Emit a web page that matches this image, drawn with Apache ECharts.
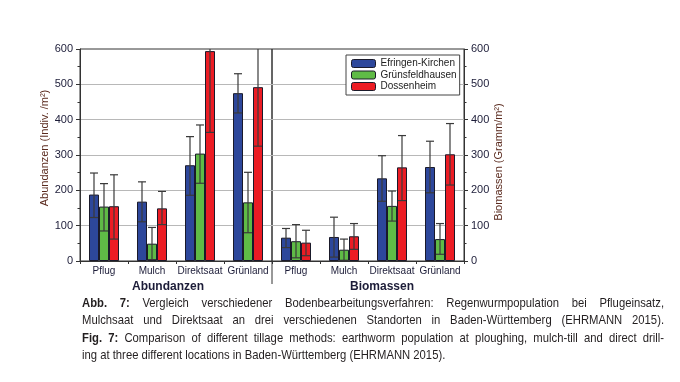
<!DOCTYPE html>
<html>
<head>
<meta charset="utf-8">
<script src="https://cdn.jsdelivr.net/npm/echarts@6/dist/echarts.min.js"></script>
<style>
  html, body { margin: 0; padding: 0; background: #fff; }
  #wrap { position: relative; width: 680px; height: 382px; overflow: hidden; }
  #chart { position: absolute; left: 0; top: 0; width: 680px; height: 382px; }
  #caption { position: absolute; left: 82px; top: 294px; width: 671px;
    transform: scaleX(0.8674); transform-origin: 0 0;
    font-family: "Liberation Sans", Arial, sans-serif;
    font-size: 13px; line-height: 17.3px; color: #231f20; }
  #caption div { text-align: justify; text-align-last: justify; }
  #caption div.last { text-align-last: left; }
</style>
</head>
<body>
<div id="wrap">
  <div id="chart"></div>
  <div id="caption">
    <div><b>Abb. 7:</b> Vergleich verschiedener Bodenbearbeitungsverfahren: Regenwurmpopulation bei Pflugeinsatz,</div>
    <div>Mulchsaat und Direktsaat an drei verschiedenen Standorten in Baden-Württemberg (EHRMANN 2015).</div>
    <div><b>Fig. 7:</b> Comparison of different tillage methods: earthworm population at ploughing, mulch-till and direct drill-</div>
    <div class="last">ing at three different locations in Baden-Württemberg (EHRMANN 2015).</div>
  </div>
</div>
<script>
// ---- data ----
var categories = ['Pflug', 'Mulch', 'Direktsaat', 'Grünland'];
var seriesNames = ['Efringen-Kirchen', 'Grünsfeldhausen', 'Dossenheim'];
var yTicks = [0, 100, 200, 300, 400, 500, 600];

// Abundanzen (Indiv./m²)
var abundEfringen     = [188, 168, 271, 475];
var abundEfringenLow  = [123, 111, 186, 419];
var abundEfringenHigh = [249, 224, 352, 530];
var abundGruens       = [154, 49, 304, 166];
var abundGruensLow    = [85, 4, 220, 80];
var abundGruensHigh   = [219, 95, 385, 251];
var abundDossen       = [155, 149, 594, 492];
var abundDossenLow    = [62, 103, 364, 325];
var abundDossenHigh   = [244, 197, 824, 659];

// Biomassen (Gramm/m²)
var bioEfringen     = [66, 68, 234, 266];
var bioEfringenLow  = [38, 11, 169, 193];
var bioEfringenHigh = [92, 124, 298, 339];
var bioGruens       = [56, 32, 156, 62];
var bioGruensLow    = [9, 2, 113, 19];
var bioGruensHigh   = [103, 62, 198, 106];
var bioDossen       = [52, 70, 265, 302];
var bioDossenLow    = [15, 33, 171, 215];
var bioDossenHigh   = [87, 106, 355, 389];

// ---- styles ----
var colors = ['#2d479b', '#5fbb46', '#ec1c24'];
var BAR_W = 10;
var FONT = '"Liberation Sans", Arial, sans-serif';
var labelColor = '#1c1c38';
var nameColor = '#5a2a1e';

function errData(low, high) {
  return low.map(function (l, i) { return [i, l, high[i]]; });
}

function errRender(offsetIndex) {
  return function (params, api) {
    var i = api.value(0);
    var p1 = api.coord([i, api.value(1)]);
    var p2 = api.coord([i, api.value(2)]);
    var x = p1[0] + offsetIndex * BAR_W;
    var cap = 4;
    var st = { stroke: '#3a3a3a', lineWidth: 1.2 };
    return {
      type: 'group',
      children: [
        { type: 'line', shape: { x1: x, y1: p1[1], x2: x, y2: p2[1] }, style: st },
        { type: 'line', shape: { x1: x - cap, y1: p1[1], x2: x + cap, y2: p1[1] }, style: st },
        { type: 'line', shape: { x1: x - cap, y1: p2[1], x2: x + cap, y2: p2[1] }, style: st }
      ]
    };
  };
}

var groups = [
  { vals: [abundEfringen, abundGruens, abundDossen],
    lows: [abundEfringenLow, abundGruensLow, abundDossenLow],
    highs: [abundEfringenHigh, abundGruensHigh, abundDossenHigh] },
  { vals: [bioEfringen, bioGruens, bioDossen],
    lows: [bioEfringenLow, bioGruensLow, bioDossenLow],
    highs: [bioEfringenHigh, bioGruensHigh, bioDossenHigh] }
];

var series = [];
groups.forEach(function (g, gi) {
  g.vals.forEach(function (v, si) {
    series.push({
      type: 'bar', name: seriesNames[si], xAxisIndex: gi, yAxisIndex: gi,
      data: v, barWidth: BAR_W, barGap: '0%',
      itemStyle: { color: colors[si], borderColor: '#1a1a2a', borderWidth: 1 },
      z: 2
    });
  });
  g.vals.forEach(function (v, si) {
    series.push({
      type: 'custom', name: seriesNames[si] + ' err', xAxisIndex: gi, yAxisIndex: gi,
      data: errData(g.lows[si], g.highs[si]), clip: true,
      renderItem: errRender(si - 1), z: 5, silent: true
    });
  });
});

function xAxisDef(gi, name, pad) {
  return {
    gridIndex: gi, type: 'category', data: categories,
    axisLine: { lineStyle: { color: '#333', width: 1 } },
    axisTick: { show: true, length: 3, lineStyle: { color: '#333' } },
    axisLabel: { fontSize: 10, color: labelColor, margin: 5, fontFamily: FONT, interval: 0 },
    name: name, nameLocation: 'middle', nameGap: 19,
    nameTextStyle: { fontSize: 12, fontWeight: 'bold', color: labelColor, fontFamily: FONT, padding: pad }
  };
}

function yAxisDef(gi, pos, name, gap, pad) {
  return {
    gridIndex: gi, type: 'value', position: pos, min: yTicks[0], max: yTicks[yTicks.length - 1], interval: 100,
    axisLine: { show: true, lineStyle: { color: '#333' } },
    axisTick: { show: true, length: 4, lineStyle: { color: '#333' } },
    minorTick: { show: true, splitNumber: 2, length: 2.5, lineStyle: { color: '#333' } },
    splitLine: { show: true, showMinLine: false, showMaxLine: false, lineStyle: { color: '#b8b8b8', width: 1 } },
    axisLabel: { fontSize: 11, color: labelColor, margin: 7, fontFamily: FONT },
    name: name, nameLocation: 'middle', nameGap: gap, nameRotate: 90,
    nameTextStyle: { fontSize: 11, color: nameColor, fontFamily: FONT, padding: pad }
  };
}

var chart = echarts.init(document.getElementById('chart'), null, { renderer: 'canvas' });
chart.setOption({
  animation: false,
  backgroundColor: '#fff',
  textStyle: { fontFamily: FONT },
  grid: [
    { left: 80, top: 49, width: 192, height: 212, show: true, borderColor: '#333', borderWidth: 1, backgroundColor: 'transparent' },
    { left: 272, top: 49, width: 192, height: 212, show: true, borderColor: '#333', borderWidth: 1, backgroundColor: 'transparent' }
  ],
  legend: {
    data: seriesNames, orient: 'vertical', left: 346, top: 55,
    backgroundColor: '#fff', borderColor: '#444', borderWidth: 1,
    padding: [3, 3, 3, 5], itemWidth: 24, itemHeight: 8, itemGap: 0.5,
    textStyle: { fontSize: 10, color: '#222', lineHeight: 11, fontFamily: FONT },
    itemStyle: { borderColor: '#1a1a2a', borderWidth: 1 }
  },
  xAxis: [xAxisDef(0, 'Abundanzen', [0, 16, 0, 0]), xAxisDef(1, 'Biomassen', [0, 0, 0, 28])],
  yAxis: [
    yAxisDef(0, 'left', 'Abundanzen (Indiv. /m²)', 30, [0, 0, 0, 14]),
    yAxisDef(1, 'right', 'Biomassen (Gramm/m²)', 27, [0, 14, 0, 0])
  ],
  graphic: [
    { type: 'line', shape: { x1: 272, y1: 261, x2: 272, y2: 284 }, style: { stroke: '#333', lineWidth: 1 } }
  ],
  series: series
});
</script>
</body>
</html>
